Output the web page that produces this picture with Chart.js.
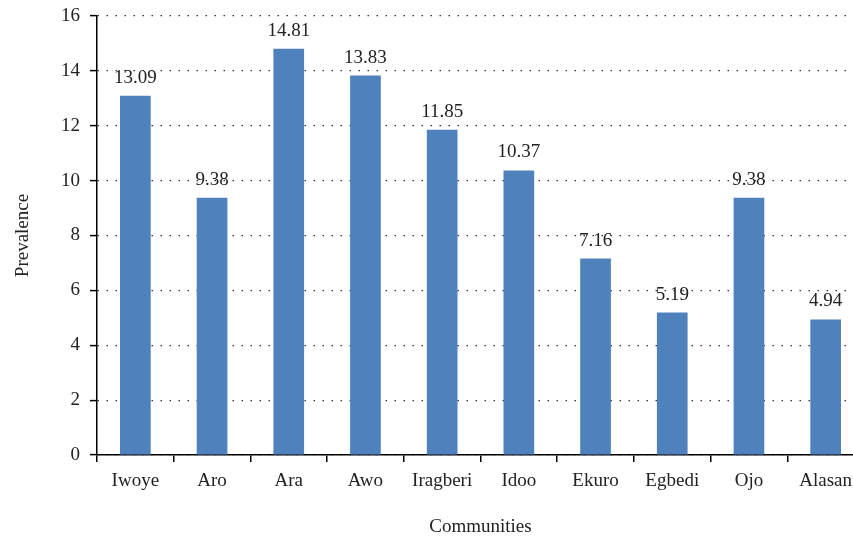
<!DOCTYPE html>
<html><head><meta charset="utf-8">
<script src="https://cdn.jsdelivr.net/npm/chart.js@4"></script>
<style>
html,body{margin:0;padding:0;background:#fff;overflow:hidden;width:853px;height:537px;}
#wrap{width:864px;height:537px;position:relative;}
</style></head>
<body><div id="wrap"><canvas id="c"></canvas></div>
<script>
const categories = ["Iwoye","Aro","Ara","Awo","Iragberi","Idoo","Ekuro","Egbedi","Ojo","Alasan"];
const prevalence = [13.09, 9.38, 14.81, 13.83, 11.85, 10.37, 7.16, 5.19, 9.38, 4.94];
const valueLabels = ["13.09","9.38","14.81","13.83","11.85","10.37","7.16","5.19","9.38","4.94"];
const yTicks = [0,2,4,6,8,10,12,14,16];

const FONT = "'Liberation Serif', 'DejaVu Serif', serif";

const labelPlugin = {
  id: 'vlabels',
  afterDatasetsDraw(chart) {
    const ctx = chart.ctx;
    const meta = chart.getDatasetMeta(0);
    ctx.save();
    ctx.font = "19px " + FONT;
    ctx.fillStyle = "#222";
    ctx.textAlign = "center";
    ctx.textBaseline = "alphabetic";
    meta.data.forEach((bar, i) => {
      ctx.fillText(valueLabels[i], bar.x, bar.y - 13);
    });
    ctx.restore();
  }
};

new Chart(document.getElementById('c'), {
  type: 'bar',
  data: {
    labels: categories,
    datasets: [{
      data: prevalence,
      backgroundColor: '#4F81BD',
      borderWidth: 0,
      barPercentage: 0.4,
      categoryPercentage: 1.0
    }]
  },
  options: {
    responsive: true,
    maintainAspectRatio: false,
    animation: false,
    layout: { padding: { top: 0, right: 0, left: 0, bottom: 0 } },
    plugins: { legend: { display: false }, tooltip: { enabled: false } },
    scales: {
      x: {
        grid: { display: true, drawOnChartArea: false, drawTicks: true, tickLength: 7, color: '#000', lineWidth: 1.5, offset: true },
        border: { display: true, color: '#000', width: 1.5 },
        ticks: { font: { family: FONT, size: 19 }, color: '#222', padding: 8, maxRotation: 0, autoSkip: false },
        title: { display: true, text: 'Communities', font: { family: FONT, size: 19, lineHeight: 1 }, color: '#222', padding: { top: 20, bottom: 0 } },
        afterFit(scale) { scale.height = 82; }
      },
      y: {
        min: 0, max: 16,
        afterBuildTicks(scale) { scale.ticks = yTicks.map(v => ({ value: v })); },
        grid: { color: '#333', lineWidth: 1.2, drawTicks: true, tickLength: 7, tickColor: '#000', tickWidth: 1.5, tickBorderDash: [] },
        border: { display: true, color: '#000', width: 1.5, dash: [1.5, 7.5] },
        ticks: { font: { family: FONT, size: 19 }, color: '#222', padding: 10 },
        title: { display: true, text: 'Prevalence', font: { family: FONT, size: 19 }, color: '#222', padding: { top: 12, bottom: 0 } },
        afterFit(scale) { scale.width = 97; scale.paddingTop = 16; scale.paddingBottom = 0; }
      }
    }
  },
  plugins: [labelPlugin]
});
</script></body></html>
